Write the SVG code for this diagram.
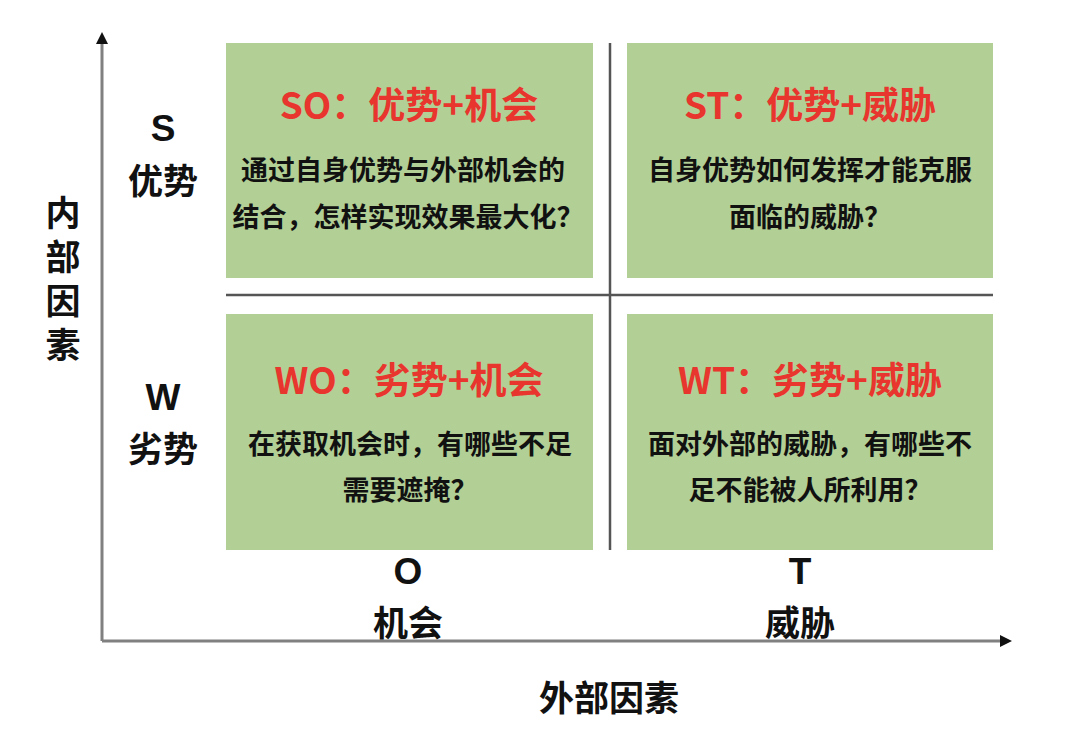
<svg xmlns="http://www.w3.org/2000/svg" width="1080" height="739" viewBox="0 0 1080 739">
<defs>
<style>
text{font-family:"Noto Sans CJK SC","Noto Sans",sans-serif;font-weight:bold;text-anchor:middle;dominant-baseline:central}
.box{fill:#b2cf95}
.title{fill:#e8352d;font-size:37px}
.body{fill:#111;font-size:27px}
.ax{fill:#111;font-size:35px}
.lt{fill:#111;font-size:37px;font-family:"Liberation Sans",Arial,sans-serif}
.vert{writing-mode:vertical-rl;letter-spacing:9px}
.axis{stroke:#808080;stroke-width:3;fill:none}
.div{stroke:#555;stroke-width:2.5;fill:none}
</style>
<marker id="arr" viewBox="0 0 10 10" refX="5" refY="5" markerWidth="4" markerHeight="4" orient="auto"><path d="M0,0 L10,5 L0,10 z" fill="#111"/></marker>
</defs>
<rect width="1080" height="739" fill="#fff"/>
<g id="connectors">
<path class="axis" d="M102,641 L102,38" marker-end="url(#arr)"/>
<path class="axis" d="M102,641 L1006,641" marker-end="url(#arr)"/>
<path class="div" d="M610,43 L610,550"/>
<path class="div" d="M226,295 L993,295"/>
</g>
<g id="so"><rect class="box" x="226" y="43" width="367" height="235"/>
<text class="title" x="409" y="103">SO：优势+机会</text>
<text class="body" x="403" y="168">通过自身优势与外部机会的</text>
<text class="body" x="408" y="215">结合，怎样实现效果最大化？</text></g>
<g id="st"><rect class="box" x="627" y="43" width="366" height="235"/>
<text class="title" x="810" y="103">ST：优势+威胁</text>
<text class="body" x="810" y="168">自身优势如何发挥才能克服</text>
<text class="body" x="810" y="215">面临的威胁？</text></g>
<g id="wo"><rect class="box" x="226" y="314" width="367" height="236"/>
<text class="title" x="409" y="378">WO：劣势+机会</text>
<text class="body" x="410" y="442">在获取机会时，有哪些不足</text>
<text class="body" x="410" y="488">需要遮掩？</text></g>
<g id="wt"><rect class="box" x="627" y="314" width="366" height="236"/>
<text class="title" x="810" y="378">WT：劣势+威胁</text>
<text class="body" x="810" y="442">面对外部的威胁，有哪些不</text>
<text class="body" x="810" y="488">足不能被人所利用？</text></g>
<g id="s-label"><text class="lt" x="163" y="128">S</text><text class="ax" x="163" y="178">优势</text></g>
<g id="w-label"><text class="lt" x="163" y="397">W</text><text class="ax" x="163" y="446">劣势</text></g>
<g id="o-label"><text class="lt" x="408" y="571">O</text><text class="ax" x="408" y="620">机会</text></g>
<g id="t-label"><text class="lt" x="800" y="571">T</text><text class="ax" x="800" y="620">威胁</text></g>
<g id="external"><text class="ax" x="609" y="695">外部因素</text></g>
<g id="internal"><text class="ax vert" x="63" y="283">内部因素</text></g>
</svg>
